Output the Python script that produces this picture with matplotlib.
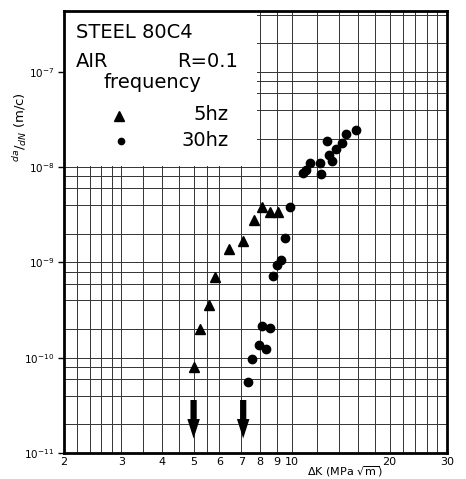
import matplotlib
matplotlib.use("Agg")
import matplotlib.pyplot as plt
from matplotlib.patches import Rectangle
import numpy as np

# ---- data ----
dk_5hz = [5.02, 5.24, 5.58, 5.82, 6.4, 7.07, 7.64, 8.1, 8.6, 9.1]
dadn_5hz = [8.0e-11, 2.0e-10, 3.6e-10, 7.1e-10, 1.4e-9, 1.7e-9, 2.8e-9, 3.8e-9, 3.4e-9, 3.4e-9]

dk_30hz = [7.37, 7.53, 7.92, 8.32, 8.09, 8.56, 8.75, 9.0, 9.26, 9.53, 9.87,
           10.84, 11.07, 11.38, 12.23, 12.32, 12.86, 13.05, 13.33, 13.7, 14.3, 14.72, 15.8]
dadn_30hz = [5.5e-11, 9.8e-11, 1.37e-10, 1.24e-10, 2.17e-10, 2.07e-10, 7.3e-10, 9.5e-10,
             1.05e-9, 1.79e-9, 3.8e-9, 8.65e-9, 9.3e-9, 1.1e-8, 1.1e-8, 8.4e-9, 1.88e-8,
             1.34e-8, 1.16e-8, 1.55e-8, 1.79e-8, 2.22e-8, 2.45e-8]

threshold_dk = [5.0, 7.1]

x_ticks = [2, 3, 4, 5, 6, 7, 8, 9, 10, 20, 30]
x_tick_labels = ["2", "3", "4", "5", "6", "7", "8", "9", "10", "20", "30"]
x_grid = [2.2, 2.4, 2.6, 2.8, 3, 3.5, 4, 4.5, 5, 5.5, 6, 7, 8, 9, 10,
          12, 14, 16, 18, 20, 22, 24, 26, 28]
y_ticks = [1e-11, 1e-10, 1e-9, 1e-8, 1e-7]
y_tick_labels = [r"$10^{-11}$", r"$10^{-10}$", r"$10^{-9}$", r"$10^{-8}$", r"$10^{-7}$"]
y_grid_mult = [2, 4, 6, 8]

W, H = 466, 479
fig = plt.figure(figsize=(W / 100, H / 100), dpi=100)
fig.patch.set_facecolor("white")


def fx(px):
    return px / W


def fy(py):
    return 1 - py / H


YTOP = 10 ** -6.36
ax = fig.add_axes([fx(64), fy(453), fx(447) - fx(64), fy(11) - fy(453)])
ax.set_xscale("log")
ax.set_yscale("log")
ax.set_xlim(2, 30)
ax.set_ylim(1e-11, YTOP)

# grid (graph paper)
for xv in x_grid:
    ax.axvline(xv, color="#333333", lw=0.7, zorder=0.5)
ygrid = []
for e in range(-11, -6):
    ygrid.append(10.0 ** e)
    for m in y_grid_mult:
        ygrid.append(m * 10.0 ** e)
for yv in ygrid:
    if yv < YTOP:
        ax.axhline(yv, color="#333333", lw=0.7, zorder=0.5)

# white label area in the upper-left
ax.add_patch(Rectangle((2, 1.04e-8), 7.85 - 2, YTOP - 1.04e-8,
                       facecolor="white", edgecolor="none", zorder=1))

ax.plot(dk_5hz, dadn_5hz, linestyle="none", marker="^", markersize=6.5,
        color="black", zorder=3, clip_on=False)
ax.plot(dk_30hz, dadn_30hz, linestyle="none", marker="o", markersize=6,
        color="black", zorder=3, clip_on=False)

for xv in threshold_dk:
    ax.annotate("", xy=(xv, 1.42e-11), xytext=(xv, 3.6e-11),
                arrowprops=dict(arrowstyle="simple,head_width=0.9,head_length=1.4,tail_width=0.45",
                                mutation_scale=10, color="black", lw=0,
                                shrinkA=0, shrinkB=0), zorder=4)

ax.set_xticks(x_ticks)
ax.set_xticklabels(x_tick_labels, fontsize=8)
ax.set_xticks([], minor=True)
ax.set_yticks(y_ticks)
ax.set_yticklabels(y_tick_labels, fontsize=7.5)
ax.set_yticks([], minor=True)
ax.tick_params(axis="x", length=0, pad=3)
ax.tick_params(axis="y", length=4, width=1, pad=3, direction="out")
for s in ax.spines.values():
    s.set_linewidth(2)
    s.set_color("black")

# labels
fig.text(fx(345), fy(472), r"$\Delta$K (MPa $\sqrt{\mathrm{m}}$)", fontsize=8,
         ha="center", va="center")
fig.text(fx(20), fy(127), r"$^{da}/_{dN}$ (m/c)", fontsize=9.5, rotation=90,
         ha="center", va="center")

# label box texts
tk = dict(fontsize=14, color="black", family="DejaVu Sans")
fig.text(fx(76), fy(38), "STEEL 80C4", ha="left", va="baseline", **tk)
fig.text(fx(76), fy(67), "AIR", ha="left", va="baseline", **tk)
fig.text(fx(238), fy(67), "R=0.1", ha="right", va="baseline", **tk)
fig.text(fx(104), fy(88), "frequency", ha="left", va="baseline", **tk)
fig.text(fx(229), fy(120), "5hz", ha="right", va="baseline", **tk)
fig.text(fx(229), fy(146), "30hz", ha="right", va="baseline", **tk)
fig.lines.append(plt.Line2D([fx(119)], [fy(116)], marker="^", markersize=7,
                            color="black", linestyle="none", transform=fig.transFigure))
fig.lines.append(plt.Line2D([fx(121)], [fy(141)], marker="o", markersize=4.5,
                            color="black", linestyle="none", transform=fig.transFigure))

fig.savefig("out.png", dpi=100, facecolor="white")
